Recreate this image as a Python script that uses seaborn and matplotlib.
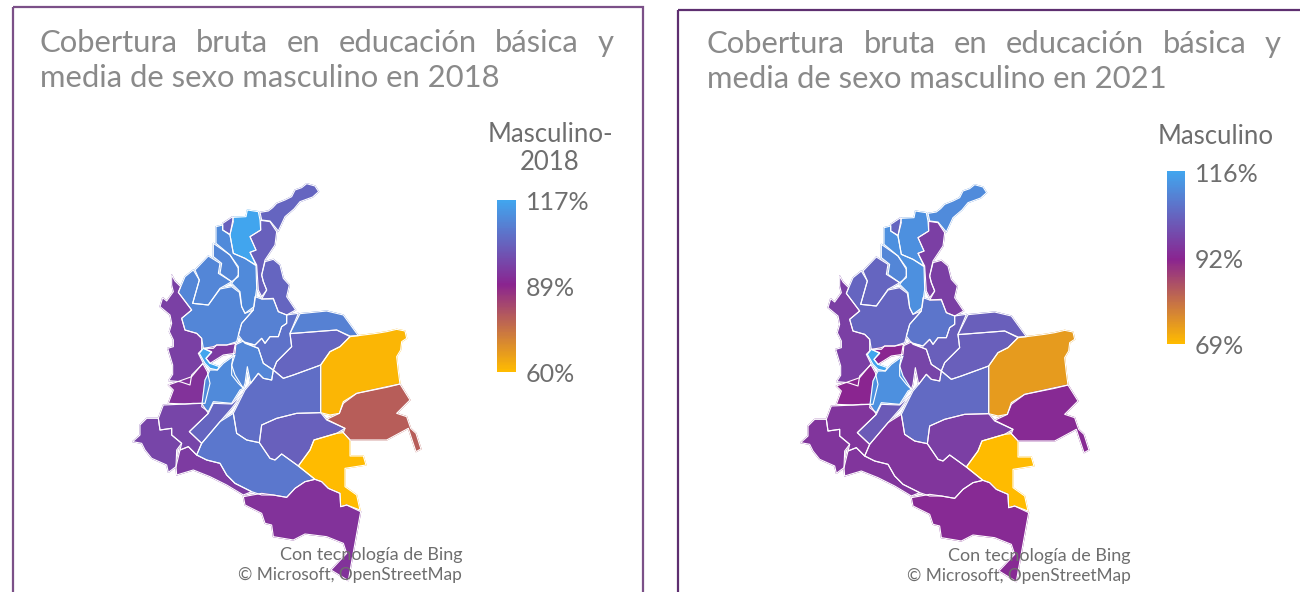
import numpy as np
import pandas as pd
import seaborn as sns
import matplotlib.pyplot as plt
from matplotlib.colors import TwoSlopeNorm
from matplotlib.patches import Rectangle

sns.set_theme(style="white")
plt.rcParams["font.family"] = ["Lato", "DejaVu Sans"]

W, H = 1300, 592
GREY = "#6E6E6E"
TITLE_GREY = "#8A8A8A"

# department outlines, map units (1 unit = 1/3 px)
outlines = {
    "La Guajira": [(390,112),(415,108),(428,98),(440,85),(465,75),(485,65),(495,45),(515,38),(530,26),(555,33),(566,50),(548,66),(510,80),(492,102),(465,125),(445,168),(430,150),(420,138),(395,135)],
    "Magdalena": [(310,127),(348,125),(352,105),(385,110),(390,135),(392,165),(360,185),(378,225),(360,232),(378,270),(345,250),(310,235),(300,180)],
    "Atlantico": [(278,145),(308,125),(310,140),(300,178),(278,165)],
    "Cesar": [(392,136),(420,140),(440,170),(435,210),(405,255),(395,300),(400,320),(410,345),(395,365),(385,345),(380,270),(360,232),(378,225),(360,185),(392,165)],
    "Bolivar": [(258,155),(278,150),(278,165),(300,180),(310,235),(345,250),(378,272),(380,340),(372,395),(345,415),(335,395),(330,350),(305,325),(325,300),(325,275),(300,240),(258,205)],
    "Sucre": [(250,205),(300,240),(325,280),(325,305),(305,320),(270,295),(275,265),(250,245)],
    "Cordoba": [(195,285),(235,243),(270,265),(265,295),(305,320),(270,340),(235,390),(188,385),(208,315)],
    "Antioquia": [(145,352),(165,305),(190,285),(208,315),(188,385),(235,390),(270,342),(305,335),(328,352),(335,395),(345,415),(370,405),(335,445),(320,500),(290,510),(260,510),(250,520),(220,520),(215,490),(200,475),(165,465),(155,430),(185,405)],
    "Choco": [(125,300),(135,318),(152,335),(145,352),(185,405),(155,430),(165,465),(200,475),(215,490),(215,525),(205,535),(220,565),(185,600),(180,630),(150,620),(116,617),(128,598),(128,570),(113,520),(130,515),(130,495),(118,470),(125,445),(120,420),(90,395),(98,368),(110,378),(130,350),(125,330)],
    "Santander": [(375,365),(395,372),(430,370),(445,410),(470,420),(470,445),(455,455),(445,485),(420,485),(405,505),(395,490),(375,510),(340,500),(325,480),(335,445),(370,405)],
    "Norte de Santander": [(405,260),(430,253),(450,270),(460,310),(478,330),(470,365),(497,405),(470,420),(445,410),(430,372),(395,372),(410,345),(400,320),(395,300)],
    "Boyaca": [(470,420),(505,415),(480,475),(485,515),(440,560),(430,585),(400,565),(385,520),(345,503),(375,510),(395,490),(405,505),(420,485),(445,485),(455,455),(470,445)],
    "Arauca": [(510,416),(590,408),(640,420),(685,482),(660,483),(620,465),(490,475),(480,475)],
    "Casanare": [(480,476),(620,465),(660,485),(630,515),(600,530),(572,570),(545,580),(490,600),(460,610),(430,585),(440,560),(485,515)],
    "Vichada": [(660,485),(685,482),(740,475),(770,470),(800,463),(825,468),(830,490),(815,500),(812,525),(800,545),(805,590),(810,627),(770,637),(680,655),(640,680),(628,715),(600,720),(572,713),(572,570),(600,530),(630,515)],
    "Meta": [(430,585),(460,610),(490,600),(545,580),(572,570),(572,713),(500,715),(440,730),(395,750),(388,803),(350,795),(320,775),(310,715),(325,685),(345,645),(362,625),(385,595),(400,610),(425,615)],
    "Cundinamarca": [(345,505),(385,520),(400,565),(430,585),(425,615),(400,610),(385,595),(362,625),(352,575),(345,625),(340,640),(325,625),(305,600),(305,570),(315,510),(340,498)],
    "Caldas": [(250,515),(260,510),(290,510),(318,505),(315,535),(280,540),(240,565),(228,550),(245,530),(220,520)],
    "Risaralda": [(208,535),(220,520),(245,532),(228,550),(240,565),(268,575),(262,585),(240,580),(225,565)],
    "Valle": [(185,605),(218,565),(232,590),(240,625),(225,685),(215,685),(190,685),(165,687),(115,685),(130,645),(115,630)],
    "Tolima": [(240,585),(262,585),(280,565),(315,540),(305,570),(315,600),(340,640),(330,645),(305,685),(250,680),(235,710),(215,695),(225,615)],
    "Huila": [(335,660),(305,700),(270,740),(215,805),(178,770),(235,715),(250,685),(305,687)],
    "Cauca": [(100,690),(215,685),(235,715),(178,770),(215,805),(200,840),(175,815),(150,825),(155,805),(125,780),(125,760),(90,765),(85,730)],
    "Narino": [(85,730),(90,765),(125,760),(125,780),(155,805),(140,825),(138,875),(115,892),(110,870),(65,850),(45,825),(35,805),(8,800),(30,780),(30,750),(50,730)],
    "Putumayo": [(150,825),(175,815),(200,840),(230,855),(270,865),(290,900),(315,925),(365,950),(340,960),(290,930),(240,905),(190,885),(140,900),(138,875)],
    "Caqueta": [(270,740),(310,715),(320,775),(350,795),(388,803),(420,850),(435,855),(455,837),(505,873),(555,913),(525,920),(495,940),(470,967),(430,960),(395,960),(365,950),(315,925),(290,900),(270,865),(230,855),(200,840),(215,805)],
    "Guaviare": [(395,750),(440,730),(500,715),(572,713),(590,735),(645,760),(620,775),(552,795),(540,825),(505,873),(455,837),(435,855),(420,850),(388,803)],
    "Vaupes": [(552,795),(620,775),(640,773),(660,795),(660,843),(700,843),(708,870),(645,880),(645,935),(680,960),(690,1005),(650,990),(632,995),(630,955),(595,940),(575,920),(555,913),(505,873),(540,825)],
    "Guainia": [(590,733),(628,715),(640,685),(680,655),(770,635),(810,627),(840,675),(800,715),(830,725),(842,760),(858,775),(873,822),(858,830),(843,785),(835,760),(770,795),(660,795),(640,773),(645,760)],
    "Amazonas": [(340,965),(395,955),(430,960),(470,967),(495,940),(525,920),(555,913),(575,920),(595,940),(630,955),(632,995),(650,990),(692,1010),(665,1160),(655,1217),(603,1185),(650,1135),(640,1105),(590,1085),(525,1077),(490,1095),(430,1085),(425,1050),(405,1045),(395,1015),(345,990)],
}

departments = list(outlines)
cobertura_2018 = [103, 117, 102, 102, 111, 110, 110, 110, 95, 109, 103, 106, 109, 103, 61, 105, 110, 94, 117, 92, 111, 103, 96, 96, 94, 107, 102, 60, 78, 92]
cobertura_2021 = [111, 112, 104, 97, 112, 110, 104, 104, 97, 107, 97, 103, 103, 103, 74, 105, 98, 92, 116, 92, 112, 102, 95, 95, 95, 95, 97, 69, 93, 93]
df = pd.DataFrame({"depto": departments, "y2018": cobertura_2018, "y2021": cobertura_2021})

scale_2018 = [60, 89, 117]
scale_2021 = [69, 92, 116]
cmap = sns.blend_palette(["#FFBB00", "#8A2490", "#41A5EE"], n_colors=256, as_cmap=True)

fig = plt.figure(figsize=(W / 100, H / 100), dpi=100)
bg = fig.add_axes([0, 0, 1, 1])
bg.set_xlim(0, W)
bg.set_ylim(H, 0)
bg.axis("off")


def px_axes(x0, y0, x1, y1):
    return fig.add_axes([x0 / W, 1 - y1 / H, (x1 - x0) / W, (y1 - y0) / H])


def justified(words, x0, x1, y, size):
    rend = fig.canvas.get_renderer()
    items = [bg.text(x0, y, w, fontsize=size, color=TITLE_GREY, va="center") for w in words]
    widths = [t.get_window_extent(rend).width for t in items]
    gap = (x1 - x0 - sum(widths)) / (len(words) - 1)
    x = x0
    for t, wd in zip(items, widths):
        t.set_x(x)
        x += wd + gap


def draw_panel(col, scale, frame, title_x, title_year, legend_title, bar, dx, dy, attrib_right, attrib_y):
    fx, fy, fw, fcolor = frame
    bg.add_patch(Rectangle((fx, fy), fw, H + 20, fill=False, ec=fcolor, lw=1.6))

    ax = px_axes(130 + dx, 175 + dy, 430 + dx, 592 + dy)
    ax.set_xlim(0, 900)
    ax.set_ylim(1251, 0)
    ax.axis("off")
    ax.patch.set_alpha(0)
    norm = TwoSlopeNorm(vmin=scale[0], vcenter=scale[1], vmax=scale[2])
    for _, row in df.iterrows():
        pts = np.array(outlines[row["depto"]])
        c = cmap(norm(row[col]))
        ax.fill(pts[:, 0], pts[:, 1], fc=c, ec=c, lw=0.9, joinstyle="round")
    for _, row in df.iterrows():
        pts = np.array(outlines[row["depto"]])
        ax.fill(pts[:, 0], pts[:, 1], fill=False, ec="white", lw=0.8, joinstyle="round")

    justified(["Cobertura", "bruta", "en", "educación", "básica", "y"], title_x, title_x + 574, 43 + dy, 22.3)
    bg.text(title_x, 78 + dy, f"media de sexo masculino en {title_year}", fontsize=22.3, color=TITLE_GREY, va="center")

    for line, y, cx in legend_title:
        bg.text(cx, y + 2, line, fontsize=18.5, color=GREY, ha="center", va="center")

    bx0, by0, bx1, by1 = bar
    cax = px_axes(bx0, by0, bx1, by1)
    grad = pd.DataFrame(np.linspace(scale[2], scale[0], 200))
    sns.heatmap(grad, ax=cax, cmap=cmap, norm=norm, cbar=False, xticklabels=False, yticklabels=False)
    ymid = by1 - (by1 - by0) / 2
    for val, y in zip(scale, [by1 + 3, ymid + 3, by0 + 3]):
        bg.text(bx1 + 10, y, f"{val}%", fontsize=18, color=GREY, va="center")

    fig.add_artist(plt.Text(attrib_right / W, 1 - (attrib_y + 2) / H, "Con tecnología de Bing", fontsize=13, color=GREY, ha="right", va="center"))
    fig.add_artist(plt.Text(attrib_right / W, 1 - (attrib_y + 22) / H, "© Microsoft, OpenStreetMap", fontsize=12.4, color=GREY, ha="right", va="center"))


draw_panel("y2018", scale_2018, (12.5, 7, 630.5, "#7B5088"), 39.5, 2018, [("Masculino-", 133, 550), ("2018", 161, 550)], (497, 200, 516, 372), 0, 0, 462, 553)
draw_panel("y2021", scale_2021, (677.5, 10, 640, "#5E2F70"), 707, 2021, [("Masculino", 134, 1216)], (1167, 171, 1185, 344), 668, 1, 1131, 554)

plt.savefig("out.png", dpi=100)
plt.close()
